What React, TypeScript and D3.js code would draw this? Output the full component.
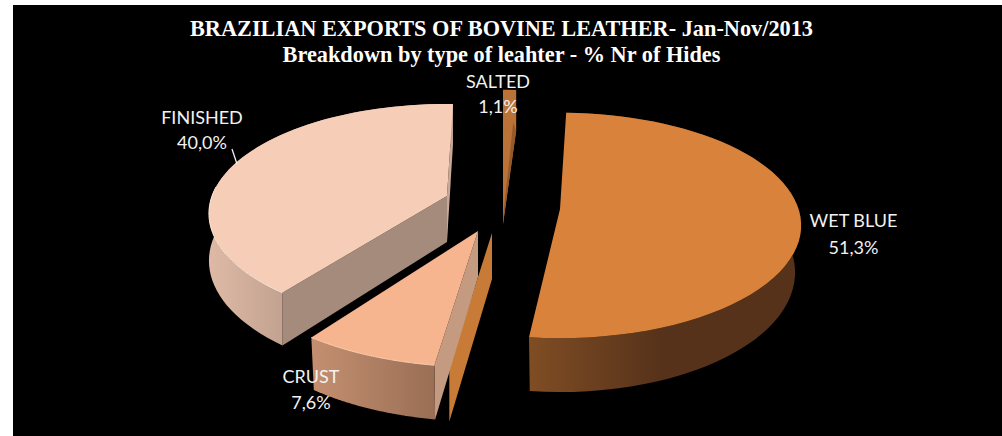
import React from "react";
import * as d3 from "d3";

// ---- data ----
const categories = ["WET BLUE", "SALTED", "CRUST", "FINISHED"];
const shares = [51.3, 1.1, 7.6, 40.0];
const shareLabels = ["51,3%", "1,1%", "7,6%", "40,0%"];
const titleLines = [
  "BRAZILIAN EXPORTS OF BOVINE LEATHER- Jan-Nov/2013",
  "Breakdown by type of leahter - % Nr of Hides",
];

// ---- layout ----
const W = 1002;
const H = 436;
const ROT = 1.7; // first slice angle, degrees
const RX = 235;
const DEPTH = 46;

type Pt = [number, number];
type Geo = { c: Pt; r: number; ry: number; p: number; shift: number; shrink: number };

const geometry: Record<string, Geo> = {
  "WET BLUE": { c: [560, 209], r: 1.015, ry: 108.7, p: 0.144, shift: 0, shrink: 0.025 },
  CRUST: { c: [478, 231], r: 1.06, ry: 108.7, p: 0.144, shift: -1.8, shrink: 0.015 },
  FINISHED: { c: [447, 196], r: 1, ry: 106.8, p: 0.16, shift: 0, shrink: 0 },
  saltedTop: { c: [503, 178], r: 0.92, ry: 108.7, p: 0.144, shift: 0, shrink: 0 },
  saltedFace: { c: [492, 233], r: 1.06, ry: 108.7, p: 0.144, shift: 0, shrink: 0 },
};

const labelPos: Record<string, { x: number; y1: number; y2: number }> = {
  "WET BLUE": { x: 853.5, y1: 227, y2: 254 },
  SALTED: { x: 498, y1: 88, y2: 113 },
  CRUST: { x: 311, y1: 383, y2: 409 },
  FINISHED: { x: 202, y1: 124, y2: 149 },
};

const toDeg = 180 / Math.PI;
const arcs = d3
  .pie<number>()
  .sort(null)
  .value((d) => d)
  .startAngle(ROT / toDeg)
  .endAngle((ROT + 360) / toDeg)(shares);
const span = (name: string): [number, number] => {
  const a = arcs[categories.indexOf(name)];
  const s = geometry[name]?.shift ?? 0;
  return [a.startAngle * toDeg + s, a.endAngle * toDeg + s];
};

const project = (g: Geo, deg: number, rad: number, z: number): Pt => {
  const t = deg / toDeg;
  const X = rad * Math.sin(t);
  const Y = -rad * Math.cos(t);
  const f = 1 / (1 - g.p * Y);
  return [
    g.c[0] + RX * X * f * (1 - g.shrink * z),
    g.c[1] + g.ry * Y * f + z * DEPTH * f,
  ];
};
const rim = (g: Geo, a: number, b: number, z: number): Pt[] =>
  d3.range(0, 61).map((i) => project(g, a + ((b - a) * i) / 60, g.r, z));

const open = d3.line<Pt>();
const closed = (pts: Pt[]) => open(pts) + "Z";

const topPath = (g: Geo, a: number, b: number) =>
  closed([project(g, 0, 0, 0), ...rim(g, a, b, 0)]);
const wallPath = (g: Geo, a: number, b: number) =>
  closed([...rim(g, a, b, 0), ...rim(g, a, b, 1).reverse()]);
const facePath = (g: Geo, a: number) =>
  closed([
    project(g, 0, 0, 0),
    project(g, a, g.r, 0),
    project(g, a, g.r, 1),
    project(g, 0, 0, 1),
  ]);

function Slice({
  name,
  top,
  wall,
  faces,
  edge,
}: {
  name: string;
  top: string;
  wall: string;
  faces: [number, string][];
  edge?: [number, number, string];
}) {
  const g = geometry[name];
  const [a, b] = span(name);
  return (
    <g>
      {faces.map(([ang, col], i) => (
        <path key={i} d={facePath(g, ang)} fill={col} />
      ))}
      <path d={wallPath(g, a, b)} fill={wall} />
      <path d={topPath(g, a, b)} fill={top} />
      {edge && (
        <path
          d={open(rim(g, edge[0], edge[1], 0)) as string}
          fill="none"
          stroke={edge[2]}
          strokeWidth={1}
        />
      )}
    </g>
  );
}

function Grad({ id, x1, x2, stops }: { id: string; x1: number; x2: number; stops: [number, string][] }) {
  return (
    <linearGradient id={id} gradientUnits="userSpaceOnUse" x1={x1} x2={x2} y1={0} y2={0}>
      {stops.map(([o, c]) => (
        <stop key={o} offset={o} stopColor={c} />
      ))}
    </linearGradient>
  );
}

export default function App() {
  const [sa, sb] = span("SALTED");
  const [ca, cb] = span("CRUST");
  const [fa, fb] = span("FINISHED");
  const sMid = (sa + sb) / 2;
  const width = sb - sa;

  // salted sliver, seen a second time at the top of the pie
  const st = geometry.saltedTop;
  const stRimStart = project(st, 0, st.r, 0);
  const stRimEnd = project(st, width, st.r, 0);
  const stRimEndB = project(st, width, st.r, 1);
  const stApexB = project(st, 0, 0, 1);

  return (
    <svg
      width={W}
      height={H}
      style={{ position: "absolute", left: 0, top: 0, background: "#fff" }}
    >
      <defs>
        <Grad id="gWet" x1={530} x2={660} stops={[[0, "#7F4D24"], [1, "#57321A"]]} />
        <Grad id="gCrust" x1={312} x2={433} stops={[[0, "#C48F70"], [1, "#9A6F55"]]} />
        <Grad id="gFin" x1={212} x2={285} stops={[[0, "#DDB9A5"], [1, "#C2A190"]]} />
      </defs>
      <rect x={13} y={5} width={W - 13} height={H - 5} fill="#000" />

      {/* salted sliver at the top */}
      <path d={closed([stRimStart, stRimEnd, stRimEndB, stApexB])} fill="#BA7236" />
      <path
        d={closed([
          stRimEndB,
          [stRimEndB[0] - 3, stRimEndB[1] - 8],
          [stApexB[0], stApexB[1] - 6],
          stApexB,
        ])}
        fill="#96592A"
      />

      <Slice
        name="FINISHED"
        top="#F6CDB6"
        wall="url(#gFin)"
        faces={[
          [fb, "#C9A898"],
          [fa, "#A58B7B"],
        ]}
        edge={[fa, 275, "#FFE9DA"]}
      />

      {/* salted sliver: its radial face below the crust slice */}
      <path d={facePath(geometry.saltedFace, sMid)} fill="#C77B36" />

      <Slice
        name="CRUST"
        top="#F6B48F"
        wall="url(#gCrust)"
        faces={[[ca, "#C49A80"]]}
        edge={[ca, cb, "#FFD2B4"]}
      />
      <Slice name="WET BLUE" top="#D9823B" wall="url(#gWet)" faces={[]} />

      {/* leader */}
      <line x1={232} y1={149} x2={237} y2={164} stroke="#F2F2F2" strokeWidth={1.3} />

      {/* labels */}
      <g fontFamily="Lato, sans-serif" fontSize={18} fill="#F2F2F2" textAnchor="middle">
        {categories.map((name, i) => {
          const p = labelPos[name];
          return (
            <g key={name}>
              <text x={p.x} y={p.y1}>{name}</text>
              <text x={p.x} y={p.y2}>{shareLabels[i]}</text>
            </g>
          );
        })}
      </g>

      {/* title */}
      <g
        fontFamily="'Liberation Serif', serif"
        fontWeight="bold"
        fontSize={22.3}
        fill="#fff"
        textAnchor="middle"
      >
        <text x={501.5} y={36}>{titleLines[0]}</text>
        <text x={501.5} y={62}>{titleLines[1]}</text>
      </g>
    </svg>
  );
}
